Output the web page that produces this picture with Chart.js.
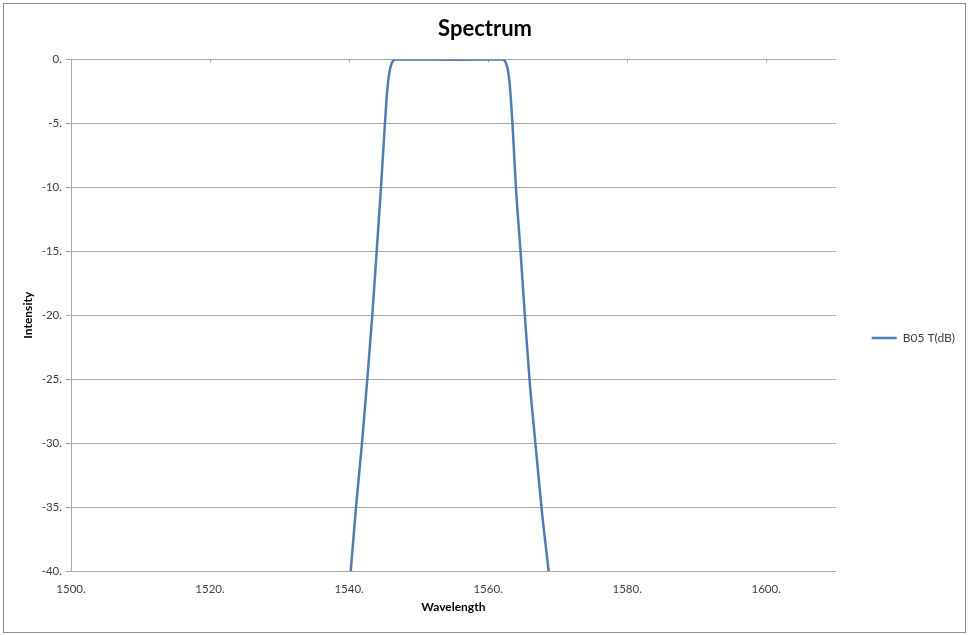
<!DOCTYPE html>
<html>
<head>
<meta charset="utf-8">
<title>Spectrum</title>
<script src="https://cdn.jsdelivr.net/npm/chart.js@4/dist/chart.umd.min.js"></script>
<style>
  html, body { margin: 0; padding: 0; background: #fff; }
  #wrap { width: 968px; height: 635px; }
</style>
</head>
<body>
<div id="wrap"><canvas id="spec" width="968" height="635"></canvas></div>
<script>
/* Spectrum — single transmission curve (dB) vs wavelength, Excel-style look. */

// Values.
const seriesLabel = "B05 T(dB)";
const wavelength = [
  1539.5, 1540.24, 1541.0, 1541.86, 1542.62, 1543.34, 1543.97, 1544.59, 1545.16,
  1545.38, 1545.58, 1545.85, 1546.1, 1546.3, 1546.45, 1546.74,
  1550.0, 1555.0, 1560.0,
  1562.0, 1562.25, 1562.45, 1562.6, 1562.85, 1563.1, 1563.5,
  1564.0, 1564.66, 1565.28, 1565.95, 1566.8, 1567.67, 1568.7, 1569.7
];
const intensity = [
  -45, -40, -35, -30, -25, -20, -15, -10, -5,
  -3.2, -1.9, -0.86, -0.34, -0.15, -0.05, 0,
  -0.01, -0.02, -0.01,
  0, -0.05, -0.15, -0.34, -0.86, -1.9, -5,
  -10, -15, -20, -25, -30, -35, -40, -45
];
const xTicks = [1500, 1520, 1540, 1560, 1580, 1600];
const yTicks = [0, -5, -10, -15, -20, -25, -30, -35, -40];

(function () {
  const $ = (id) => document.getElementById(id);
  const FONT = "Lato, 'Open Sans', sans-serif";
  const BLUE = "#4a7ebb";
  const GRID = "#a6a6a6";
  const TXT = "#404040";

  const points = wavelength.map((x, i) => ({ x, y: intensity[i] }));

  // Outer chart-area frame like the Excel chart object border.
  const frame = {
    id: "frame",
    beforeDraw(chart) {
      const c = chart.ctx;
      c.save();
      c.fillStyle = "#fff";
      c.fillRect(0, 0, chart.width, chart.height);
      c.strokeStyle = "#8c8c8c";
      c.lineWidth = 1;
      c.strokeRect(3.5, 3.5, chart.width - 6, chart.height - 6);
      c.restore();
    }
  };

  new Chart($("spec").getContext("2d"), {
    type: "scatter",
    data: {
      datasets: [{
        label: seriesLabel,
        data: points,
        showLine: true,
        borderColor: BLUE,
        backgroundColor: BLUE,
        borderWidth: 2.5,
        pointRadius: 0,
        cubicInterpolationMode: "monotone",
        xAxisID: "x"
      }]
    },
    options: {
      responsive: false,
      animation: false,
      layout: { padding: { top: 5, left: 5, right: 3, bottom: 18 } },
      plugins: {
        title: {
          display: true,
          text: "Spectrum",
          color: "#000",
          font: { family: FONT, size: 22, weight: "bold" },
          padding: { top: 11, bottom: 17 }
        },
        legend: {
          position: "right",
          // blank legend title only pushes the entry a little below the middle
          title: { display: true, text: " ", font: { size: 10 }, padding: { top: 42, bottom: 0 } },
          labels: {
            usePointStyle: true,
            pointStyle: "line",
            pointStyleWidth: 25,
            boxHeight: 12,
            padding: 36,
            color: TXT,
            font: { family: FONT, size: 12 }
          }
        },
        tooltip: { enabled: false }
      },
      scales: {
        x: {
          type: "linear",
          min: 1500, max: 1610,
          afterFit: s => { s.height = 46; },
          afterBuildTicks: s => { s.ticks = xTicks.map(v => ({ value: v })); },
          ticks: {
            color: TXT, padding: 11,
            font: { family: FONT, size: 11.5 },
            maxRotation: 0,
            callback: v => v + "."
          },
          grid: { display: false, drawTicks: false },
          border: { display: true, color: GRID, width: 1 },
          title: {
            display: true, text: "Wavelength", color: "#000",
            font: { family: FONT, size: 12, weight: "bold" },
            padding: { top: 0, bottom: 3 }
          }
        },
        // axis line sits at y = 0 (top) in the original, with short inward ticks
        xTop: {
          type: "linear",
          position: "top",
          min: 1500, max: 1610,
          afterFit: s => { s.height = 0; },
          afterBuildTicks: s => { s.ticks = xTicks.map(v => ({ value: v })); },
          ticks: { display: false },
          grid: { drawOnChartArea: false, drawTicks: true, tickLength: -3, color: GRID },
          border: { display: false }
        },
        y: {
          min: -40, max: 0,
          afterFit: s => { s.width = 66; },
          afterBuildTicks: s => { s.ticks = yTicks.map(v => ({ value: v })); },
          ticks: {
            color: TXT, padding: 4,
            font: { family: FONT, size: 11.5 },
            callback: v => v + "."
          },
          grid: { color: GRID, lineWidth: 1, tickLength: 5 },
          border: { display: true, color: GRID, width: 1 },
          title: {
            display: true, text: "Intensity", color: "#000",
            font: { family: FONT, size: 12, weight: "bold" },
            padding: { top: 16, bottom: 0 }
          }
        }
      }
    },
    plugins: [frame]
  });
})();
</script>
</body>
</html>
